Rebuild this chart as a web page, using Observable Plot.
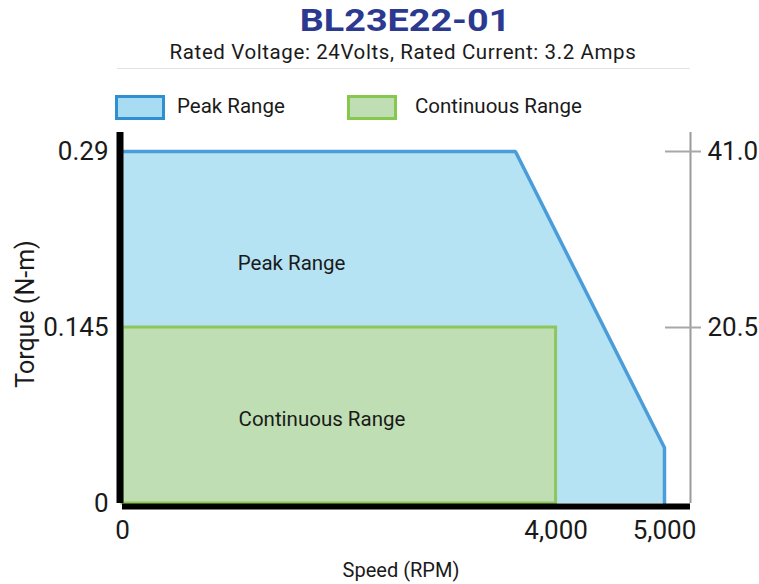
<!DOCTYPE html>
<html>
<head>
<meta charset="utf-8">
<script src="https://cdn.jsdelivr.net/npm/d3@7"></script>
<script src="https://cdn.jsdelivr.net/npm/@observablehq/plot@0.6"></script>
<style>
  html, body { margin: 0; padding: 0; background: #fff; }
  #page { position: relative; width: 759px; height: 584px; font-family: Roboto, "Open Sans", sans-serif; color: #1a1a1a; overflow: hidden; }
  .abs { position: absolute; white-space: nowrap; }
  #title { left: 0; width: 810px; top: 2px; text-align: center; font-size: 32px; line-height: 1.171; font-weight: 700; color: #2b3990; transform: scaleX(1.18); transform-origin: 405px 50%; }
  #subtitle { left: 0; width: 806px; top: 40px; text-align: center; font-size: 20.5px; line-height: 1.171; letter-spacing: 0.6px; color: #1a1a1a; }
  #rule { left: 117px; top: 68px; width: 573px; height: 0; border-top: 1.5px solid #e3e3e3; }
  .swatch { position: absolute; width: 44px; height: 19px; top: 95px; border: 3px solid; }
  .legtext { position: absolute; top: 93px; font-size: 20.5px; line-height: 26px; }
  #ylabel { left: 25px; top: 314px; transform: translate(-50%, -50%) rotate(-90deg); font-size: 25px; }
  #xlabel { left: 401px; top: 570px; transform: translate(-50%, -50%); font-size: 20px; }
  #chart { position: absolute; left: 0; top: 130px; }
</style>
</head>
<body>
<div id="page">
  <div id="title" class="abs">BL23E22-01</div>
  <div id="subtitle" class="abs">Rated Voltage: 24Volts, Rated Current: 3.2 Amps</div>
  <div id="rule" class="abs"></div>
  <div id="legend"></div>
  <div id="ylabel" class="abs">Torque (N-m)</div>
  <div id="xlabel" class="abs">Speed (RPM)</div>
  <div id="chart"></div>
</div>
<script>
// ---- data ----
const seriesNames = ["Peak Range", "Continuous Range"];
const seriesFill = ["#b5e3f4", "#bfdeb3"];
const seriesStroke = ["#4a9dd8", "#8dc75b"];
const legendFill = ["#a8dcf2", "#bfdeb3"];
const legendStroke = ["#2f8fd0", "#86c84e"];

// Peak range envelope (speed RPM, torque N-m)
const peakSpeed = [0, 3625, 5000, 5000];
const peakTorque = [0.29, 0.29, 0.046, 0];

// Continuous range
const contSpeed = [0, 4000];
const contTorque = [0, 0.145];

// Axes
const xDomain = [0, 5240];
const yDomain = [0, 0.3057];
const xTicks = [0, 4000, 5000];
const xTickLabels = ["0", "4,000", "5,000"];
const yTicks = [0, 0.145, 0.29];
const yTickLabels = ["0", "0.145", "0.29"];
const rightTicks = [0.145, 0.29];
const rightTickLabels = ["20.5", "41.0"];

// Region labels (anchor positions in data units)
const regionLabelText = ["Peak Range", "Continuous Range"];
const regionLabelX = [1560, 1840];
const regionLabelY = [0.198, 0.069];

// ---- legend ----
const legend = document.getElementById("legend");
const legendX = [115, 347];
const legendTextX = [177, 415];
seriesNames.forEach((name, i) => {
  const sw = document.createElement("div");
  sw.className = "swatch";
  sw.style.left = legendX[i] + "px";
  sw.style.background = legendFill[i];
  sw.style.borderColor = legendStroke[i];
  legend.appendChild(sw);
  const t = document.createElement("div");
  t.className = "legtext";
  t.style.left = legendTextX[i] + "px";
  t.textContent = name;
  legend.appendChild(t);
});

// ---- chart ----
const peakData = peakSpeed.map((x, i) => ({x, y: peakTorque[i]}));
const peakArea = peakData.slice(0, 3);
const contRect = [{x1: contSpeed[0], x2: contSpeed[1], y1: contTorque[0], y2: contTorque[1]}];
const labels = regionLabelText.map((text, i) => ({text, x: regionLabelX[i], y: regionLabelY[i]}));
const fmt = (ticks, labs) => d => labs[ticks.indexOf(d)];

const chart = Plot.plot({
  width: 759,
  height: 454,
  marginLeft: 122,
  marginRight: 69,
  marginTop: 2,
  marginBottom: 81,
  style: {fontFamily: "Roboto, 'Open Sans', sans-serif", color: "#1a1a1a", background: "transparent", overflow: "visible"},
  x: {domain: xDomain},
  y: {domain: yDomain},
  marks: [
    Plot.areaY(peakArea, {x: "x", y: "y", fill: seriesFill[0]}),
    Plot.line(peakData, {x: "x", y: "y", stroke: seriesStroke[0], strokeWidth: 3.5, strokeLinejoin: "miter"}),
    Plot.rect(contRect, {x1: "x1", x2: "x2", y1: "y1", y2: "y2", fill: seriesFill[1], stroke: seriesStroke[1], strokeWidth: 3}),
    Plot.text(labels, {x: "x", y: "y", text: "text", fontSize: 20.5, fill: "#1a1a1a"}),
    Plot.ruleX([xDomain[1]], {stroke: "#9a9a9a", strokeWidth: 2}),
    Plot.ruleX([0], {stroke: "#000", strokeWidth: 7, dx: -2.5}),
    Plot.ruleY([0], {stroke: "#000", strokeWidth: 6, dy: 3, x1: xDomain[0], x2: xDomain[1]}),
    Plot.axisY(yTicks, {anchor: "left", tickSize: 0, tickPadding: 14, fontSize: 26, tickFormat: fmt(yTicks, yTickLabels), label: null}),
    Plot.axisX(xTicks, {anchor: "bottom", tickSize: 0, tickPadding: 17, fontSize: 26, tickFormat: fmt(xTicks, xTickLabels), label: null}),
    Plot.axisY(rightTicks, {anchor: "right", tickSize: 36, dx: -26, stroke: "#a8a8a8", strokeWidth: 2, tickFormat: () => "", label: null}),
    Plot.axisY(rightTicks, {anchor: "right", tickSize: 0, tickPadding: 17, fontSize: 26, tickFormat: fmt(rightTicks, rightTickLabels), label: null})
  ]
});
document.getElementById("chart").appendChild(chart);
</script>
</body>
</html>
